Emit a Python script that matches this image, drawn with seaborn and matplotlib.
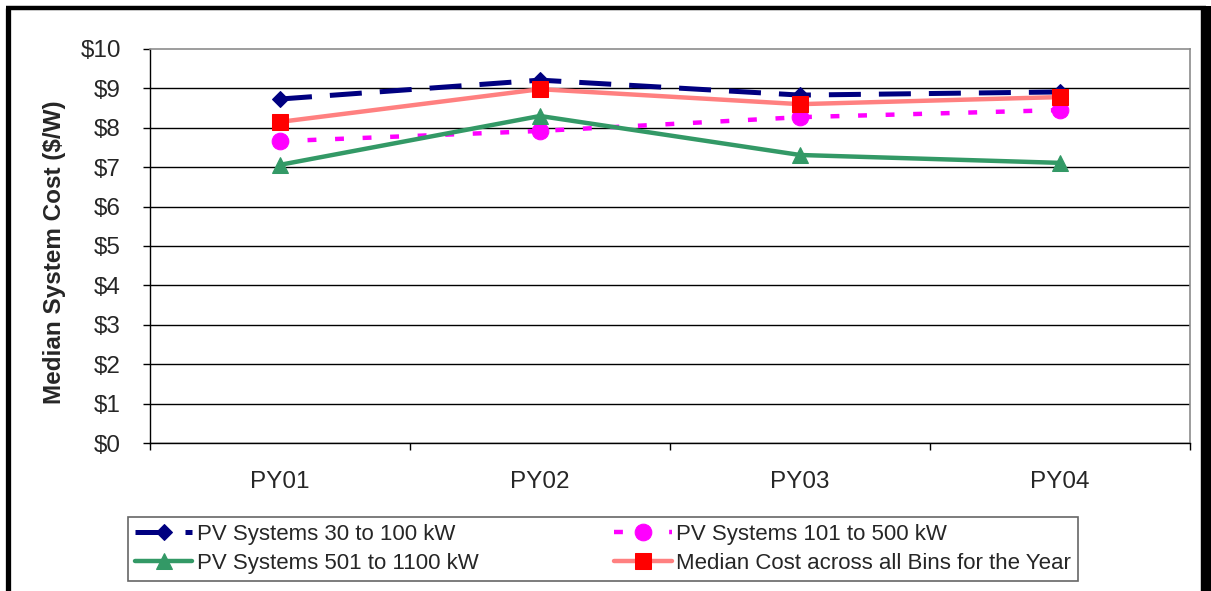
import matplotlib
matplotlib.use("Agg")
import matplotlib.pyplot as plt
from matplotlib.lines import Line2D
from matplotlib.ticker import FixedLocator
import seaborn as sns

# Program years and median installed cost ($/W) by system size bin
years = ["PY01", "PY02", "PY03", "PY04"]
cost_30_100 = [8.73, 9.21, 8.83, 8.91]
cost_101_500 = [7.66, 7.92, 8.27, 8.45]
cost_501_1100 = [7.06, 8.30, 7.31, 7.11]
cost_all_bins = [8.15, 8.98, 8.60, 8.78]

series_labels = [
    "PV Systems 30 to 100 kW",
    "PV Systems 101 to 500 kW",
    "PV Systems 501 to 1100 kW",
    "Median Cost across all Bins for the Year",
]
y_ticks = [0, 1, 2, 3, 4, 5, 6, 7, 8, 9, 10]
y_tick_labels = ["$0", "$1", "$2", "$3", "$4", "$5", "$6", "$7", "$8", "$9", "$10"]
y_label = "Median System Cost ($/W)"

sns.set_theme(style="white")
plt.rcParams["font.family"] = ["Liberation Sans", "DejaVu Sans"]

W, H = 1211, 591
fig = plt.figure(figsize=(W / 100, H / 100), dpi=100)
ax = fig.add_axes([150 / W, 1 - 443 / H, 1040 / W, 394 / H])

styles = [
    dict(color="#000080", lw=3.6, linestyle=(0, (6.4, 3.6)), marker="D", markersize=8,
         markerfacecolor="#000080", markeredgecolor="#000080"),
    dict(color="#FF00FF", lw=3.2, linestyle=(0, (2.0, 4.2)), marker="o", markersize=12,
         markerfacecolor="#FF00FF", markeredgecolor="#FF00FF"),
    dict(color="#339966", lw=3.2, linestyle="-", marker="^", markersize=12,
         markerfacecolor="#339966", markeredgecolor="#339966"),
    dict(color="#FF8080", lw=3.2, linestyle="-", marker="s", markersize=11,
         markerfacecolor="#FF0000", markeredgecolor="#FF0000"),
]
values = [cost_30_100, cost_101_500, cost_501_1100, cost_all_bins]

for vals, lab, st in zip(values, series_labels, styles):
    sns.lineplot(x=years, y=vals, ax=ax, sort=False, errorbar=None, label=lab, **st)

ax.set_xlim(-0.5, 3.5)
ax.set_ylim(0, 10)
ax.set_yticks(y_ticks)
ax.set_yticklabels(y_tick_labels)
ax.set_xticks(range(len(years)))
ax.set_xticklabels(years)
ax.xaxis.set_minor_locator(FixedLocator([i - 0.5 for i in range(len(years) + 1)]))

ax.tick_params(axis="y", which="major", direction="out", length=5, width=1,
               color="black", left=True, labelsize=17.5, pad=16)
ax.tick_params(axis="x", which="major", length=0, labelsize=17.5, pad=20)
ax.tick_params(axis="x", which="minor", direction="out", length=5, width=1,
               color="black", bottom=True)

for y in y_ticks[:-1]:
    ax.axhline(y, color="black", lw=1, zorder=0.5)

for side in ("top", "right"):
    ax.spines[side].set_color("#8c8c8c")
    ax.spines[side].set_linewidth(1.2)
for side in ("left", "bottom"):
    ax.spines[side].set_color("black")
    ax.spines[side].set_linewidth(1)

ax.set_xlabel("")
ax.set_ylabel(y_label, fontsize=17.5, fontweight="bold")
ax.yaxis.set_label_coords(-0.081, 0.485)

handles, labels = ax.get_legend_handles_labels()
ax.get_legend().remove()
order = [0, 2, 1, 3]
leg = fig.legend([handles[i] for i in order], [labels[i] for i in order],
                 loc="upper left", bbox_to_anchor=(128 / W, 1 - 517 / H),
                 ncol=2, fontsize=16, frameon=True, fancybox=False,
                 handlelength=2.6, handletextpad=0.2, columnspacing=6.1,
                 labelspacing=0.38, borderpad=0.3, borderaxespad=0,
                 numpoints=1)
leg.get_frame().set_edgecolor("#404040")
leg.get_frame().set_linewidth(1.2)

# outer border of the figure (open at the bottom)
fig.add_artist(Line2D([7.5 / W, 7.5 / W], [0, 1 - 8 / H], color="black", lw=3.8,
                      transform=fig.transFigure, solid_capstyle="butt"))
fig.add_artist(Line2D([5.5 / W, 1205.5 / W], [1 - 8 / H, 1 - 8 / H], color="black",
                      lw=3.2, transform=fig.transFigure, solid_capstyle="butt"))
fig.add_artist(Line2D([1205.5 / W, 1205.5 / W], [0, 1 - 6 / H], color="black", lw=7.5,
                      transform=fig.transFigure, solid_capstyle="butt"))

fig.savefig("out.png", dpi=100, facecolor="white")
